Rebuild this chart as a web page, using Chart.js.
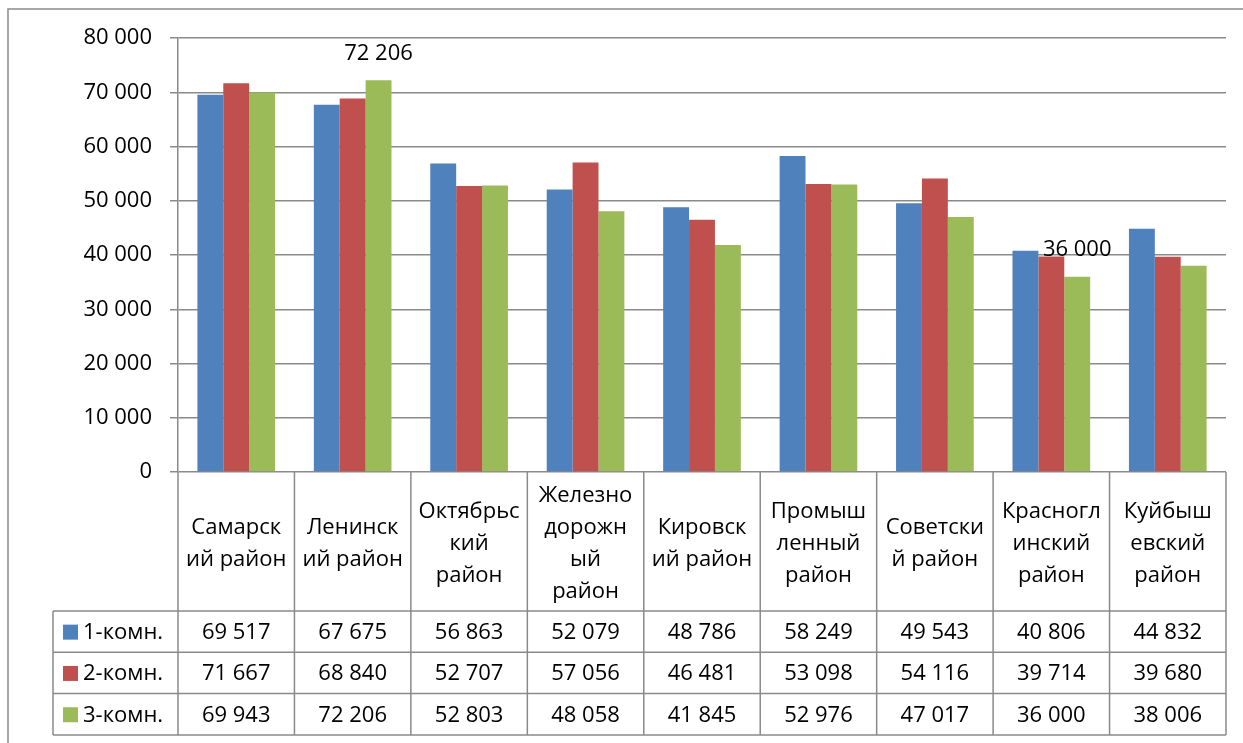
<!DOCTYPE html>
<html>
<head>
<meta charset="utf-8">
<script src="https://cdn.jsdelivr.net/npm/chart.js@4"></script>
<style>
  body { margin: 0; background: #fff; }
  canvas { display: block; }
</style>
</head>
<body>
<canvas id="priceChart" width="1243" height="743"></canvas>
<script>
// districts (already split into lines the way the table header shows them)
const categories = [
    ['Самарск', 'ий район'],
    ['Ленинск', 'ий район'],
    ['Октябрьс', 'кий', 'район'],
    ['Железно', 'дорожн', 'ый', 'район'],
    ['Кировск', 'ий район'],
    ['Промыш', 'ленный', 'район'],
    ['Советски', 'й район'],
    ['Красногл', 'инский', 'район'],
    ['Куйбыш', 'евский', 'район']
];
const seriesNames = ['1-комн.', '2-комн.', '3-комн.'];
const oneRoom = [69517, 67675, 56863, 52079, 48786, 58249, 49543, 40806, 44832];
const twoRoom = [71667, 68840, 52707, 57056, 46481, 53098, 54116, 39714, 39680];
const threeRoom = [69943, 72206, 52803, 48058, 41845, 52976, 47017, 36000, 38006];
const yMax = 80000;
const yStep = 10000;
// [series, category] of bars that carry a value label
const labelledBars = [[2, 1], [2, 7]];

const colors = ['#4F81BD', '#C0504D', '#9BBB59'];
const lineColor = '#8A8A8A';
const font = '"Open Sans", "DejaVu Sans", sans-serif';
const fontSize = 22;

const fmt = v => String(v).replace(/\B(?=(\d{3})+(?!\d))/g, ' ');

const frame = {
    id: 'frame',
    beforeDraw(chart) {
        const c = chart.ctx;
        c.save();
        c.fillStyle = '#fff';
        c.fillRect(0, 0, chart.width, chart.height);
        c.strokeStyle = lineColor;
        c.lineWidth = 1.5;
        c.strokeRect(8, 9, chart.width + 20, chart.height + 20);
        c.restore();
    }
};

const dataTable = {
    id: 'dataTable',
    afterDraw(chart) {
        const c = chart.ctx;
        const area = chart.chartArea;
        const xs = chart.scales.x;
        const n = categories.length;
        const colW = (area.right - area.left) / n;
        const headH = 139, rowH = 41.3, legendLeft = 53;
        const headBottom = area.bottom + headH;
        const tableBottom = headBottom + rowH * 3;
        const values = chart.data.datasets.map(d => d.data);

        c.save();
        c.strokeStyle = lineColor;
        c.lineWidth = 1.5;
        c.beginPath();
        for (let i = 0; i <= n; i++) {
            const x = area.left + i * colW;
            c.moveTo(x, area.bottom);
            c.lineTo(x, tableBottom);
        }
        c.moveTo(legendLeft, headBottom);
        c.lineTo(legendLeft, tableBottom);
        for (let r = 0; r <= 3; r++) {
            const y = headBottom + r * rowH;
            c.moveTo(legendLeft, y);
            c.lineTo(area.right, y);
        }
        c.stroke();

        c.fillStyle = '#000';
        c.font = fontSize + 'px ' + font;
        c.textAlign = 'center';
        c.textBaseline = 'middle';
        const lh = 32;
        const headMid = area.bottom + headH / 2 + 2;
        categories.forEach((lines, i) => {
            const cx = xs.getPixelForValue(i);
            const y0 = headMid - (lines.length - 1) * lh / 2;
            lines.forEach((t, k) => c.fillText(t, cx, y0 + k * lh));
        });

        for (let r = 0; r < 3; r++) {
            const cy = headBottom + r * rowH + rowH / 2;
            for (let i = 0; i < n; i++) {
                c.fillText(fmt(values[r][i]), xs.getPixelForValue(i), cy + 1);
            }
            c.fillStyle = colors[r];
            c.fillRect(legendLeft + 10, cy - 7, 15, 15);
            c.fillStyle = '#000';
            c.textAlign = 'left';
            c.fillText(seriesNames[r], legendLeft + 30, cy + 1);
            c.textAlign = 'center';
        }

        // value labels above chosen bars
        labelledBars.forEach(([s, i]) => {
            const bar = chart.getDatasetMeta(s).data[i];
            c.fillText(fmt(values[s][i]), bar.x, bar.y - 27);
        });
        c.restore();
    }
};

new Chart(document.getElementById('priceChart'), {
    type: 'bar',
    data: {
        labels: categories,
        datasets: [oneRoom, twoRoom, threeRoom].map((d, k) => ({
            label: seriesNames[k],
            data: d,
            backgroundColor: colors[k],
            categoryPercentage: 0.667,
            barPercentage: 1.0
        }))
    },
    options: {
        responsive: false,
        animation: false,
        layout: { padding: { left: 0, top: 38, right: 17, bottom: 271 } },
        plugins: {
            legend: { display: false },
            tooltip: { enabled: false }
        },
        scales: {
            x: { display: false },
            y: {
                min: 0,
                max: yMax,
                afterFit: scale => { scale.width = 178; },
                ticks: {
                    stepSize: yStep,
                    padding: 18,
                    color: '#000',
                    font: { family: font, size: fontSize },
                    callback: v => fmt(v)
                },
                grid: { color: lineColor, lineWidth: 1.5, tickLength: 8 },
                border: { color: lineColor, width: 1.5 }
            }
        }
    },
    plugins: [frame, dataTable]
});
</script>
</body>
</html>
